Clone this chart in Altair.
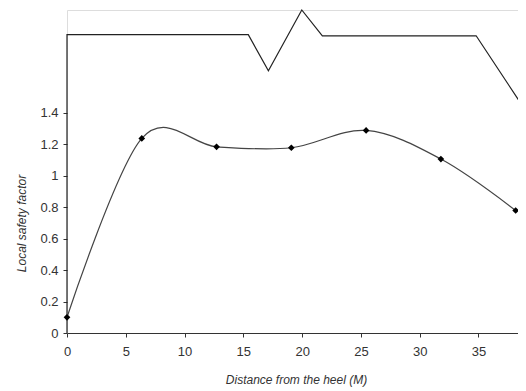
import altair as alt
import pandas as pd

# Local safety factor data
dist = [0.0, 6.36, 12.72, 19.08, 25.44, 31.8, 38.16]
factor = [0.10, 1.237, 1.184, 1.178, 1.288, 1.106, 0.779]

# Dam profile outline drawn above the curve
prof_x = [0.0, 0.0, 15.42, 17.13, 19.97, 21.72, 34.8, 38.7]
prof_y = [0.0, 1.897, 1.897, 1.668, 2.054, 1.89, 1.89, 1.449]

x_ticks = [0, 5, 10, 15, 20, 25, 30, 35]
y_ticks = [0, 0.2, 0.4, 0.6, 0.8, 1, 1.2, 1.4]

df = pd.DataFrame({"d": dist, "f": factor})
prof = pd.DataFrame({"d": prof_x, "f": prof_y, "o": list(range(len(prof_x)))})

FONT = "Liberation Sans"

xs = alt.Scale(domain=[0, 38.7], nice=False, zero=False, range=[0, 455])
ys = alt.Scale(domain=[0, 2.054], nice=False)

xaxis = alt.Axis(values=x_ticks, title="Distance from the heel (M)", grid=False,
                 tickSize=4, labelPadding=8, labelFont=FONT, labelFontSize=13,
                 labelColor="#333", tickColor="#333", domain=True,
                 domainColor="#333",
                 titleFont=FONT, titleFontSize=12, titleFontStyle="italic",
                 titleFontWeight="normal", titleColor="#333",
                 titleX=229, titleY=46, titleAlign="center", titleBaseline="middle",
                 labelFlush=False, format="~g")
yaxis = alt.Axis(values=y_ticks, title="Local safety factor", grid=False,
                 tickSize=4, labelPadding=5, labelFont=FONT, labelFontSize=13,
                 labelColor="#333", tickColor="#333", domain=False,
                 domainColor="white", domainOpacity=0, zindex=0,
                 titleFont=FONT, titleFontSize=12, titleFontStyle="italic",
                 titleFontWeight="normal", titleColor="#333",
                 titleX=-46, titleY=213, titleAngle=-90, titleAlign="center",
                 titleBaseline="middle", labelFlush=False, format="~g")

X = alt.X("d:Q", scale=xs, axis=xaxis)
Y = alt.Y("f:Q", scale=ys, axis=yaxis)

profile = alt.Chart(prof).mark_line(color="#222", strokeWidth=1.2, clip=False).encode(
    x=X, y=Y, order="o:Q",
)

curve = alt.Chart(df).mark_line(color="#444", strokeWidth=1.2,
                                interpolate="cardinal", tension=0).encode(
    x=X, y=Y,
)

pts = alt.Chart(df).mark_point(shape="diamond", filled=True, color="black",
                               size=45, opacity=1).encode(
    x=X, y=Y,
)

chart = (profile + curve + pts).properties(
    width=451, height=323,
    autosize=alt.AutoSizeParams(type="none"),
    padding={"left": 59, "top": 2, "right": 0, "bottom": 55},
).configure_view(strokeWidth=0, stroke="white", strokeOpacity=0, fill="white").configure_axis(
    grid=False
).configure_axisY(domain=False, domainColor="white").configure(background="white")

chart.save("out.html", embed_options={"renderer": "svg", "actions": False})
